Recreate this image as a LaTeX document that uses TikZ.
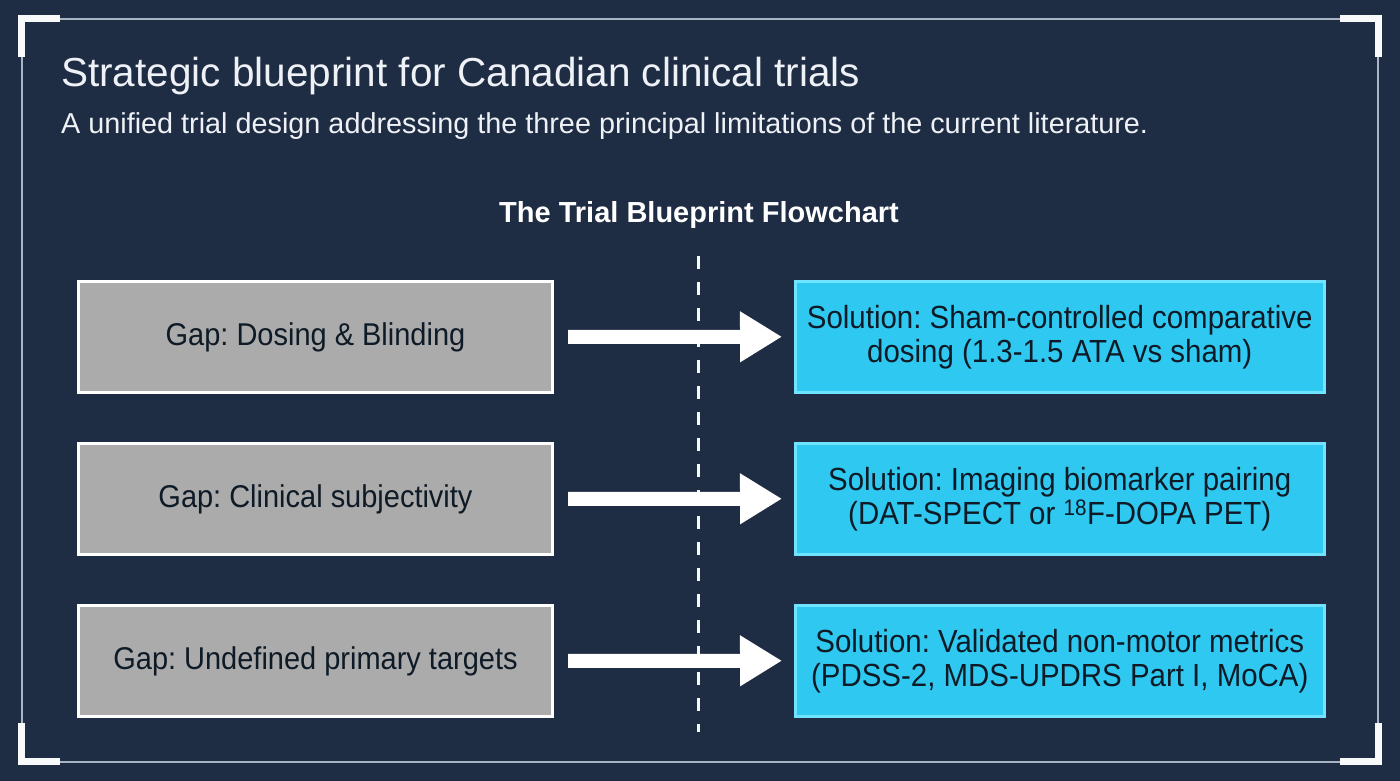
\documentclass[tikz,border=0pt]{standalone}
\usepackage{fontspec}
\setmainfont{Liberation Sans}
\newfontfamily\boxfont[FakeStretch=0.92]{Liberation Sans}
\usetikzlibrary{arrows.meta}
\definecolor{bg}{HTML}{1E2C44}
\definecolor{framec}{HTML}{A9B4C4}
\definecolor{gapfill}{HTML}{ABABAB}
\definecolor{solfill}{HTML}{2FC8F0}
\definecolor{solborder}{HTML}{6FE3FF}
\definecolor{textlight}{HTML}{EEF1F5}
\definecolor{textdark}{HTML}{0E1A26}
\tikzset{
  gapbox/.style={draw=white, line width=3pt, fill=gapfill, minimum width=474pt, minimum height=111pt, inner sep=0pt, font=\boxfont\fontsize{31.5}{34}\selectfont\frenchspacing, text=textdark, anchor=north west},
  solbox/.style={draw=solborder, line width=2.5pt, fill=solfill, minimum width=529pt, minimum height=111pt, inner sep=0pt, font=\boxfont\fontsize{32}{34}\selectfont\frenchspacing, text=textdark, align=center, anchor=north west},
  flowarrow/.style={white, line width=14pt, -{Triangle[length=42pt,width=48pt]}, shorten <=14pt, shorten >=12pt},
  bracket/.style={white!92!framec, line width=7pt},
  thinframe/.style={framec, line width=2pt},
}
\begin{document}
\begin{tikzpicture}[x=1pt,y=-1pt]
\fill[bg] (0,0) rectangle (1400,781);
\useasboundingbox (0,0) rectangle (1400,781);
% frame
\draw[thinframe] (22,19.5) -- (1378,19.5) -- (1378,762) -- (22,762) -- cycle;
\draw[bracket] (21.5,57) -- (21.5,18.5) -- (60,18.5);
\draw[bracket] (1340,18.5) -- (1378.5,18.5) -- (1378.5,57);
\draw[bracket] (21.5,723) -- (21.5,761.5) -- (60,761.5);
\draw[bracket] (1340,761.5) -- (1378.5,761.5) -- (1378.5,723);
% titles
\node[anchor=base west, text=textlight, font=\fontsize{40.5}{46}\selectfont, inner sep=0pt] (title) at (61,87) {Strategic blueprint for Canadian clinical trials};
\node[anchor=base west, text=textlight, font=\fontsize{28.8}{32}\selectfont, inner sep=0pt] (subtitle) at (61,134) {A unified trial design addressing the three principal limitations of the current literature.};
\node[anchor=base, text=white, font=\fontsize{29}{32}\selectfont\bfseries, inner sep=0pt] (fc) at (699,222) {The Trial Blueprint Flowchart};
% dashed divider
\coordinate (dtop) at (698,256);
\coordinate (dbot) at (698,732);
\draw[white!90!framec, line width=3pt, dash pattern=on 13pt off 13pt] (dtop) -- (dbot);
% boxes
\node[gapbox] (g1) at (77,280) {Gap: Dosing \& Blinding};
\node[gapbox] (g2) at (77,442) {Gap: Clinical subjectivity};
\node[gapbox] (g3) at (77,604) {Gap: Undefined primary targets};
\node[solbox] (s1) at (794,280) {Solution: Sham-controlled comparative\\dosing (1.3-1.5 ATA vs sham)};
\node[solbox] (s2) at (794,442) {Solution: Imaging biomarker pairing\\(DAT-SPECT or \textsuperscript{18}F-DOPA PET)};
\node[solbox] (s3) at (794,604) {Solution: Validated non-motor metrics\\(PDSS-2, MDS-UPDRS Part I, MoCA)};
% arrows
\draw[flowarrow] (g1.east) -- (s1.west);
\draw[flowarrow] (g2.east) -- (s2.west);
\draw[flowarrow] (g3.east) -- (s3.west);
\end{tikzpicture}
\end{document}
